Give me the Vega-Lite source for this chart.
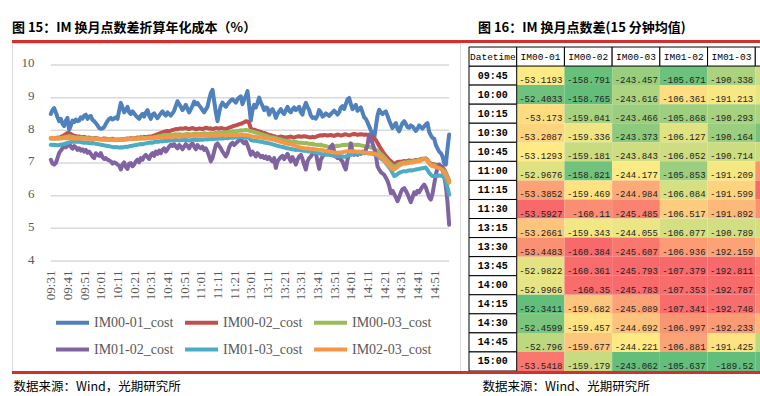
{
"$schema":"https://vega.github.io/schema/vega-lite/v6.json",
"padding":{"left":11,"top":21,"right":0,"bottom":0},
"bounds":"flush",
"spacing":0,
"background":"#ffffff",
"datasets":{
"cost":[
{"t":"09:31","a":8.50,"b":7.76,"c":7.75,"d":7.10,"e":7.56,"f":7.77},
{"t":"09:32","a":8.62,"b":7.77,"c":7.74,"d":6.98,"e":7.55,"f":7.76},
{"t":"09:33","a":8.68,"b":7.75,"c":7.75,"d":6.95,"e":7.56,"f":7.77},
{"t":"09:34","a":8.55,"b":7.76,"c":7.76,"d":7.00,"e":7.55,"f":7.76},
{"t":"09:35","a":8.40,"b":7.78,"c":7.75,"d":7.15,"e":7.54,"f":7.75},
{"t":"09:36","a":8.28,"b":7.77,"c":7.76,"d":7.31,"e":7.55,"f":7.76},
{"t":"09:37","a":8.35,"b":7.80,"c":7.77,"d":7.38,"e":7.56,"f":7.75},
{"t":"09:38","a":8.20,"b":7.82,"c":7.78,"d":7.45,"e":7.57,"f":7.76},
{"t":"09:39","a":8.13,"b":7.85,"c":7.79,"d":7.56,"e":7.58,"f":7.77},
{"t":"09:40","a":8.30,"b":7.88,"c":7.80,"d":7.48,"e":7.60,"f":7.76},
{"t":"09:41","a":8.38,"b":7.92,"c":7.81,"d":7.52,"e":7.62,"f":7.77},
{"t":"09:42","a":8.02,"b":7.91,"c":7.82,"d":7.60,"e":7.63,"f":7.76},
{"t":"09:43","a":8.15,"b":7.89,"c":7.81,"d":7.50,"e":7.64,"f":7.75},
{"t":"09:44","a":8.30,"b":7.85,"c":7.80,"d":7.44,"e":7.65,"f":7.76},
{"t":"09:45","a":8.25,"b":7.84,"c":7.79,"d":7.52,"e":7.66,"f":7.75},
{"t":"09:46","a":8.33,"b":7.82,"c":7.78,"d":7.48,"e":7.65,"f":7.74},
{"t":"09:47","a":8.28,"b":7.80,"c":7.78,"d":7.40,"e":7.66,"f":7.75},
{"t":"09:48","a":8.30,"b":7.81,"c":7.77,"d":7.45,"e":7.65,"f":7.76},
{"t":"09:49","a":8.40,"b":7.80,"c":7.78,"d":7.38,"e":7.64,"f":7.75},
{"t":"09:50","a":8.36,"b":7.79,"c":7.77,"d":7.42,"e":7.63,"f":7.74},
{"t":"09:51","a":8.45,"b":7.80,"c":7.76,"d":7.35,"e":7.62,"f":7.75},
{"t":"09:52","a":8.48,"b":7.78,"c":7.77,"d":7.40,"e":7.63,"f":7.74},
{"t":"09:53","a":8.35,"b":7.77,"c":7.76,"d":7.31,"e":7.62,"f":7.75},
{"t":"09:54","a":8.42,"b":7.78,"c":7.75,"d":7.35,"e":7.61,"f":7.74},
{"t":"09:55","a":8.44,"b":7.76,"c":7.76,"d":7.28,"e":7.60,"f":7.73},
{"t":"09:56","a":8.32,"b":7.75,"c":7.75,"d":7.20,"e":7.61,"f":7.74},
{"t":"09:57","a":8.28,"b":7.76,"c":7.74,"d":7.15,"e":7.60,"f":7.73},
{"t":"09:58","a":8.22,"b":7.77,"c":7.75,"d":7.30,"e":7.59,"f":7.74},
{"t":"09:59","a":8.15,"b":7.75,"c":7.74,"d":7.25,"e":7.58,"f":7.73},
{"t":"10:00","a":8.07,"b":7.74,"c":7.73,"d":7.22,"e":7.57,"f":7.72},
{"t":"10:01","a":8.05,"b":7.73,"c":7.73,"d":7.30,"e":7.56,"f":7.72},
{"t":"10:02","a":8.06,"b":7.74,"c":7.72,"d":7.18,"e":7.55,"f":7.71},
{"t":"10:03","a":8.10,"b":7.75,"c":7.73,"d":7.12,"e":7.54,"f":7.72},
{"t":"10:04","a":8.20,"b":7.74,"c":7.72,"d":7.15,"e":7.53,"f":7.71},
{"t":"10:05","a":8.28,"b":7.73,"c":7.71,"d":7.10,"e":7.52,"f":7.72},
{"t":"10:06","a":8.35,"b":7.72,"c":7.72,"d":7.08,"e":7.51,"f":7.71},
{"t":"10:07","a":8.38,"b":7.73,"c":7.71,"d":7.05,"e":7.50,"f":7.72},
{"t":"10:08","a":8.33,"b":7.74,"c":7.70,"d":6.98,"e":7.49,"f":7.71},
{"t":"10:09","a":8.36,"b":7.72,"c":7.71,"d":7.02,"e":7.48,"f":7.70},
{"t":"10:10","a":8.40,"b":7.71,"c":7.70,"d":7.00,"e":7.49,"f":7.71},
{"t":"10:11","a":8.35,"b":7.72,"c":7.70,"d":6.95,"e":7.48,"f":7.71},
{"t":"10:12","a":8.60,"b":7.71,"c":7.71,"d":6.92,"e":7.47,"f":7.72},
{"t":"10:13","a":8.84,"b":7.72,"c":7.72,"d":6.80,"e":7.48,"f":7.71},
{"t":"10:14","a":8.70,"b":7.73,"c":7.71,"d":6.95,"e":7.47,"f":7.72},
{"t":"10:15","a":8.55,"b":7.72,"c":7.72,"d":7.02,"e":7.49,"f":7.73},
{"t":"10:16","a":8.62,"b":7.74,"c":7.73,"d":6.88,"e":7.50,"f":7.72},
{"t":"10:17","a":8.72,"b":7.75,"c":7.72,"d":6.82,"e":7.49,"f":7.73},
{"t":"10:18","a":8.55,"b":7.74,"c":7.74,"d":6.98,"e":7.51,"f":7.74},
{"t":"10:19","a":8.50,"b":7.76,"c":7.73,"d":7.00,"e":7.52,"f":7.73},
{"t":"10:20","a":8.58,"b":7.75,"c":7.74,"d":6.90,"e":7.53,"f":7.74},
{"t":"10:21","a":8.52,"b":7.76,"c":7.75,"d":6.95,"e":7.54,"f":7.75},
{"t":"10:22","a":8.45,"b":7.77,"c":7.74,"d":7.05,"e":7.55,"f":7.74},
{"t":"10:23","a":8.40,"b":7.78,"c":7.75,"d":7.10,"e":7.56,"f":7.75},
{"t":"10:24","a":8.35,"b":7.77,"c":7.76,"d":7.02,"e":7.57,"f":7.76},
{"t":"10:25","a":8.45,"b":7.79,"c":7.75,"d":7.15,"e":7.58,"f":7.75},
{"t":"10:26","a":8.50,"b":7.78,"c":7.76,"d":7.10,"e":7.57,"f":7.76},
{"t":"10:27","a":8.42,"b":7.80,"c":7.77,"d":7.20,"e":7.59,"f":7.75},
{"t":"10:28","a":8.55,"b":7.79,"c":7.76,"d":7.25,"e":7.60,"f":7.76},
{"t":"10:29","a":8.62,"b":7.80,"c":7.77,"d":7.18,"e":7.61,"f":7.77},
{"t":"10:30","a":8.45,"b":7.81,"c":7.78,"d":7.12,"e":7.62,"f":7.76},
{"t":"10:31","a":8.35,"b":7.80,"c":7.77,"d":7.25,"e":7.63,"f":7.77},
{"t":"10:32","a":8.48,"b":7.82,"c":7.78,"d":7.30,"e":7.62,"f":7.76},
{"t":"10:33","a":8.52,"b":7.84,"c":7.79,"d":7.22,"e":7.64,"f":7.77},
{"t":"10:34","a":8.44,"b":7.86,"c":7.80,"d":7.35,"e":7.65,"f":7.78},
{"t":"10:35","a":8.37,"b":7.88,"c":7.81,"d":7.28,"e":7.66,"f":7.77},
{"t":"10:36","a":8.45,"b":7.90,"c":7.82,"d":7.38,"e":7.65,"f":7.78},
{"t":"10:37","a":8.52,"b":7.92,"c":7.83,"d":7.30,"e":7.67,"f":7.79},
{"t":"10:38","a":8.58,"b":7.94,"c":7.84,"d":7.40,"e":7.66,"f":7.78},
{"t":"10:39","a":8.50,"b":7.96,"c":7.85,"d":7.45,"e":7.68,"f":7.79},
{"t":"10:40","a":8.45,"b":7.97,"c":7.86,"d":7.35,"e":7.67,"f":7.80},
{"t":"10:41","a":8.55,"b":7.98,"c":7.86,"d":7.42,"e":7.68,"f":7.79},
{"t":"10:42","a":8.50,"b":7.97,"c":7.85,"d":7.50,"e":7.69,"f":7.80},
{"t":"10:43","a":8.45,"b":7.99,"c":7.87,"d":7.56,"e":7.70,"f":7.81},
{"t":"10:44","a":8.52,"b":8.01,"c":7.86,"d":7.52,"e":7.69,"f":7.80},
{"t":"10:45","a":8.60,"b":8.02,"c":7.87,"d":7.58,"e":7.70,"f":7.81},
{"t":"10:46","a":8.75,"b":8.04,"c":7.88,"d":7.50,"e":7.71,"f":7.82},
{"t":"10:47","a":8.89,"b":8.03,"c":7.87,"d":7.45,"e":7.70,"f":7.81},
{"t":"10:48","a":8.80,"b":8.05,"c":7.88,"d":7.55,"e":7.69,"f":7.82},
{"t":"10:49","a":8.72,"b":8.06,"c":7.87,"d":7.50,"e":7.70,"f":7.81},
{"t":"10:50","a":8.62,"b":8.05,"c":7.86,"d":7.42,"e":7.71,"f":7.82},
{"t":"10:51","a":8.70,"b":8.06,"c":7.87,"d":7.50,"e":7.70,"f":7.83},
{"t":"10:52","a":8.78,"b":8.07,"c":7.88,"d":7.58,"e":7.71,"f":7.82},
{"t":"10:53","a":8.65,"b":8.05,"c":7.89,"d":7.52,"e":7.70,"f":7.83},
{"t":"10:54","a":8.55,"b":8.04,"c":7.88,"d":7.45,"e":7.69,"f":7.82},
{"t":"10:55","a":8.65,"b":8.06,"c":7.87,"d":7.55,"e":7.70,"f":7.83},
{"t":"10:56","a":8.75,"b":8.07,"c":7.88,"d":7.60,"e":7.71,"f":7.84},
{"t":"10:57","a":8.88,"b":8.05,"c":7.89,"d":7.50,"e":7.72,"f":7.83},
{"t":"10:58","a":8.80,"b":8.03,"c":7.90,"d":7.42,"e":7.71,"f":7.82},
{"t":"10:59","a":8.84,"b":8.04,"c":7.89,"d":7.55,"e":7.70,"f":7.83},
{"t":"11:00","a":8.76,"b":8.06,"c":7.88,"d":7.48,"e":7.71,"f":7.84},
{"t":"11:01","a":8.70,"b":8.05,"c":7.89,"d":7.45,"e":7.72,"f":7.83},
{"t":"11:02","a":8.62,"b":8.04,"c":7.90,"d":7.50,"e":7.71,"f":7.84},
{"t":"11:03","a":8.55,"b":8.06,"c":7.91,"d":7.40,"e":7.72,"f":7.85},
{"t":"11:04","a":8.64,"b":8.08,"c":7.90,"d":7.45,"e":7.73,"f":7.84},
{"t":"11:05","a":8.72,"b":8.07,"c":7.89,"d":7.35,"e":7.72,"f":7.83},
{"t":"11:06","a":8.95,"b":8.05,"c":7.90,"d":7.20,"e":7.73,"f":7.84},
{"t":"11:07","a":9.14,"b":8.06,"c":7.91,"d":7.05,"e":7.74,"f":7.85},
{"t":"11:08","a":9.24,"b":8.04,"c":7.90,"d":7.15,"e":7.73,"f":7.84},
{"t":"11:09","a":8.90,"b":8.05,"c":7.91,"d":7.35,"e":7.74,"f":7.85},
{"t":"11:10","a":8.55,"b":8.07,"c":7.92,"d":7.55,"e":7.75,"f":7.84},
{"t":"11:11","a":8.28,"b":8.06,"c":7.91,"d":7.60,"e":7.74,"f":7.85},
{"t":"11:12","a":8.55,"b":8.05,"c":7.92,"d":7.52,"e":7.75,"f":7.84},
{"t":"11:13","a":8.75,"b":8.07,"c":7.93,"d":7.45,"e":7.76,"f":7.85},
{"t":"11:14","a":8.85,"b":8.06,"c":7.92,"d":7.35,"e":7.75,"f":7.86},
{"t":"11:15","a":8.78,"b":8.05,"c":7.93,"d":7.28,"e":7.76,"f":7.85},
{"t":"11:16","a":8.72,"b":8.04,"c":7.94,"d":7.20,"e":7.77,"f":7.84},
{"t":"11:17","a":8.80,"b":8.06,"c":7.93,"d":7.30,"e":7.76,"f":7.85},
{"t":"11:18","a":8.86,"b":8.08,"c":7.95,"d":7.48,"e":7.77,"f":7.86},
{"t":"11:19","a":8.92,"b":8.10,"c":7.96,"d":7.58,"e":7.78,"f":7.85},
{"t":"11:20","a":8.95,"b":8.12,"c":7.97,"d":7.62,"e":7.77,"f":7.86},
{"t":"11:21","a":8.90,"b":8.14,"c":7.96,"d":7.55,"e":7.78,"f":7.85},
{"t":"11:22","a":8.85,"b":8.15,"c":7.97,"d":7.60,"e":7.79,"f":7.86},
{"t":"11:23","a":8.95,"b":8.17,"c":7.98,"d":7.65,"e":7.78,"f":7.85},
{"t":"11:24","a":9.00,"b":8.19,"c":7.99,"d":7.70,"e":7.79,"f":7.86},
{"t":"11:25","a":9.04,"b":8.20,"c":8.00,"d":7.77,"e":7.80,"f":7.87},
{"t":"11:26","a":8.80,"b":8.22,"c":7.99,"d":7.65,"e":7.79,"f":7.86},
{"t":"11:27","a":8.95,"b":8.25,"c":8.00,"d":7.60,"e":7.78,"f":7.85},
{"t":"11:28","a":9.05,"b":8.28,"c":8.01,"d":7.66,"e":7.79,"f":7.86},
{"t":"11:29","a":9.20,"b":8.27,"c":8.00,"d":7.55,"e":7.78,"f":7.85},
{"t":"11:30","a":8.75,"b":8.22,"c":7.99,"d":7.40,"e":7.77,"f":7.84},
{"t":"13:01","a":8.30,"b":8.05,"c":7.97,"d":7.25,"e":7.70,"f":7.82},
{"t":"13:02","a":8.62,"b":8.03,"c":7.96,"d":7.35,"e":7.69,"f":7.81},
{"t":"13:03","a":8.78,"b":8.02,"c":7.95,"d":7.28,"e":7.68,"f":7.80},
{"t":"13:04","a":8.70,"b":8.00,"c":7.93,"d":7.20,"e":7.68,"f":7.80},
{"t":"13:05","a":8.84,"b":7.98,"c":7.92,"d":7.30,"e":7.67,"f":7.79},
{"t":"13:06","a":9.00,"b":7.97,"c":7.90,"d":7.25,"e":7.66,"f":7.78},
{"t":"13:07","a":8.85,"b":7.95,"c":7.88,"d":7.18,"e":7.65,"f":7.78},
{"t":"13:08","a":8.75,"b":7.93,"c":7.87,"d":7.22,"e":7.64,"f":7.77},
{"t":"13:09","a":8.62,"b":7.92,"c":7.85,"d":7.15,"e":7.63,"f":7.76},
{"t":"13:10","a":8.70,"b":7.90,"c":7.84,"d":7.20,"e":7.62,"f":7.76},
{"t":"13:11","a":8.68,"b":7.88,"c":7.82,"d":7.12,"e":7.61,"f":7.75},
{"t":"13:12","a":8.48,"b":7.86,"c":7.80,"d":7.18,"e":7.60,"f":7.74},
{"t":"13:13","a":8.60,"b":7.85,"c":7.79,"d":7.10,"e":7.59,"f":7.73},
{"t":"13:14","a":8.65,"b":7.83,"c":7.78,"d":7.05,"e":7.57,"f":7.72},
{"t":"13:15","a":8.55,"b":7.82,"c":7.77,"d":7.15,"e":7.56,"f":7.71},
{"t":"13:16","a":8.38,"b":7.80,"c":7.76,"d":6.85,"e":7.54,"f":7.69},
{"t":"13:17","a":8.50,"b":7.79,"c":7.74,"d":7.05,"e":7.53,"f":7.68},
{"t":"13:18","a":8.58,"b":7.80,"c":7.73,"d":7.12,"e":7.51,"f":7.66},
{"t":"13:19","a":8.65,"b":7.81,"c":7.72,"d":7.18,"e":7.50,"f":7.65},
{"t":"13:20","a":8.55,"b":7.80,"c":7.70,"d":7.22,"e":7.49,"f":7.63},
{"t":"13:21","a":8.50,"b":7.79,"c":7.69,"d":7.12,"e":7.48,"f":7.62},
{"t":"13:22","a":8.62,"b":7.78,"c":7.68,"d":7.20,"e":7.46,"f":7.60},
{"t":"13:23","a":8.72,"b":7.79,"c":7.67,"d":7.28,"e":7.45,"f":7.59},
{"t":"13:24","a":8.60,"b":7.80,"c":7.68,"d":7.15,"e":7.44,"f":7.58},
{"t":"13:25","a":8.55,"b":7.81,"c":7.66,"d":7.05,"e":7.43,"f":7.57},
{"t":"13:26","a":8.65,"b":7.79,"c":7.65,"d":7.18,"e":7.42,"f":7.56},
{"t":"13:27","a":8.70,"b":7.78,"c":7.66,"d":7.08,"e":7.41,"f":7.54},
{"t":"13:28","a":8.62,"b":7.80,"c":7.64,"d":6.95,"e":7.40,"f":7.52},
{"t":"13:29","a":8.66,"b":7.81,"c":7.63,"d":7.10,"e":7.41,"f":7.50},
{"t":"13:30","a":8.72,"b":7.82,"c":7.62,"d":7.20,"e":7.40,"f":7.48},
{"t":"13:31","a":8.55,"b":7.80,"c":7.62,"d":7.25,"e":7.39,"f":7.47},
{"t":"13:32","a":8.48,"b":7.81,"c":7.61,"d":7.12,"e":7.38,"f":7.46},
{"t":"13:33","a":8.70,"b":7.82,"c":7.60,"d":6.95,"e":7.37,"f":7.45},
{"t":"13:34","a":8.84,"b":7.81,"c":7.61,"d":6.80,"e":7.38,"f":7.44},
{"t":"13:35","a":8.72,"b":7.80,"c":7.60,"d":7.05,"e":7.36,"f":7.45},
{"t":"13:36","a":8.62,"b":7.79,"c":7.59,"d":7.15,"e":7.35,"f":7.44},
{"t":"13:37","a":8.45,"b":7.78,"c":7.58,"d":7.20,"e":7.36,"f":7.43},
{"t":"13:38","a":8.38,"b":7.80,"c":7.59,"d":7.28,"e":7.34,"f":7.44},
{"t":"13:39","a":8.40,"b":7.79,"c":7.57,"d":7.35,"e":7.33,"f":7.42},
{"t":"13:40","a":8.36,"b":7.80,"c":7.56,"d":7.30,"e":7.32,"f":7.41},
{"t":"13:41","a":8.45,"b":7.82,"c":7.56,"d":7.05,"e":7.31,"f":7.41},
{"t":"13:42","a":8.62,"b":7.84,"c":7.55,"d":6.82,"e":7.30,"f":7.40},
{"t":"13:43","a":8.55,"b":7.85,"c":7.56,"d":7.10,"e":7.28,"f":7.41},
{"t":"13:44","a":8.42,"b":7.84,"c":7.54,"d":7.20,"e":7.27,"f":7.39},
{"t":"13:45","a":8.45,"b":7.86,"c":7.53,"d":7.25,"e":7.26,"f":7.38},
{"t":"13:46","a":8.52,"b":7.85,"c":7.52,"d":7.30,"e":7.25,"f":7.37},
{"t":"13:47","a":8.48,"b":7.84,"c":7.50,"d":7.35,"e":7.26,"f":7.36},
{"t":"13:48","a":8.44,"b":7.85,"c":7.49,"d":7.40,"e":7.25,"f":7.35},
{"t":"13:49","a":8.50,"b":7.86,"c":7.48,"d":7.50,"e":7.24,"f":7.34},
{"t":"13:50","a":8.55,"b":7.84,"c":7.49,"d":7.56,"e":7.23,"f":7.33},
{"t":"13:51","a":8.60,"b":7.83,"c":7.50,"d":7.35,"e":7.22,"f":7.32},
{"t":"13:52","a":8.55,"b":7.85,"c":7.52,"d":7.20,"e":7.21,"f":7.31},
{"t":"13:53","a":8.48,"b":7.87,"c":7.53,"d":7.15,"e":7.22,"f":7.32},
{"t":"13:54","a":8.55,"b":7.86,"c":7.52,"d":7.22,"e":7.20,"f":7.31},
{"t":"13:55","a":8.70,"b":7.84,"c":7.54,"d":7.10,"e":7.21,"f":7.32},
{"t":"13:56","a":8.74,"b":7.85,"c":7.55,"d":7.05,"e":7.20,"f":7.33},
{"t":"13:57","a":8.65,"b":7.87,"c":7.56,"d":6.90,"e":7.19,"f":7.34},
{"t":"13:58","a":8.80,"b":7.88,"c":7.55,"d":6.80,"e":7.20,"f":7.35},
{"t":"13:59","a":8.95,"b":7.86,"c":7.56,"d":7.10,"e":7.22,"f":7.36},
{"t":"14:00","a":8.99,"b":7.85,"c":7.57,"d":7.30,"e":7.24,"f":7.35},
{"t":"14:01","a":8.80,"b":7.86,"c":7.56,"d":7.60,"e":7.25,"f":7.36},
{"t":"14:02","a":8.65,"b":7.88,"c":7.57,"d":7.35,"e":7.27,"f":7.35},
{"t":"14:03","a":8.72,"b":7.89,"c":7.56,"d":7.25,"e":7.28,"f":7.36},
{"t":"14:04","a":8.78,"b":7.88,"c":7.55,"d":7.30,"e":7.29,"f":7.35},
{"t":"14:05","a":8.60,"b":7.86,"c":7.56,"d":7.25,"e":7.30,"f":7.34},
{"t":"14:06","a":8.65,"b":7.87,"c":7.55,"d":7.32,"e":7.29,"f":7.35},
{"t":"14:07","a":8.70,"b":7.88,"c":7.54,"d":7.28,"e":7.30,"f":7.34},
{"t":"14:08","a":8.55,"b":7.87,"c":7.53,"d":7.35,"e":7.31,"f":7.33},
{"t":"14:09","a":8.40,"b":7.86,"c":7.52,"d":7.30,"e":7.30,"f":7.32},
{"t":"14:10","a":8.35,"b":7.87,"c":7.50,"d":7.40,"e":7.31,"f":7.31},
{"t":"14:11","a":8.25,"b":7.86,"c":7.50,"d":7.55,"e":7.30,"f":7.31},
{"t":"14:12","a":8.12,"b":7.84,"c":7.49,"d":7.87,"e":7.29,"f":7.30},
{"t":"14:13","a":8.00,"b":7.82,"c":7.48,"d":7.75,"e":7.30,"f":7.31},
{"t":"14:14","a":7.90,"b":7.80,"c":7.46,"d":7.60,"e":7.28,"f":7.30},
{"t":"14:15","a":7.75,"b":7.75,"c":7.44,"d":7.45,"e":7.27,"f":7.29},
{"t":"14:16","a":8.10,"b":7.70,"c":7.41,"d":7.25,"e":7.25,"f":7.27},
{"t":"14:17","a":8.45,"b":7.62,"c":7.37,"d":6.90,"e":7.22,"f":7.25},
{"t":"14:18","a":8.63,"b":7.52,"c":7.33,"d":6.80,"e":7.18,"f":7.22},
{"t":"14:19","a":8.55,"b":7.44,"c":7.28,"d":6.72,"e":7.14,"f":7.18},
{"t":"14:20","a":8.50,"b":7.36,"c":7.23,"d":6.68,"e":7.10,"f":7.13},
{"t":"14:21","a":8.55,"b":7.28,"c":7.18,"d":6.64,"e":7.06,"f":7.08},
{"t":"14:22","a":8.58,"b":7.22,"c":7.12,"d":6.55,"e":7.00,"f":7.02},
{"t":"14:23","a":8.45,"b":7.16,"c":7.06,"d":6.45,"e":6.93,"f":6.96},
{"t":"14:24","a":8.30,"b":7.10,"c":7.01,"d":6.30,"e":6.86,"f":6.91},
{"t":"14:25","a":8.18,"b":7.06,"c":6.96,"d":6.08,"e":6.80,"f":6.86},
{"t":"14:26","a":8.07,"b":7.01,"c":6.91,"d":6.15,"e":6.70,"f":6.82},
{"t":"14:27","a":8.15,"b":6.98,"c":6.87,"d":6.05,"e":6.60,"f":6.80},
{"t":"14:28","a":8.22,"b":7.00,"c":6.90,"d":5.95,"e":6.62,"f":6.84},
{"t":"14:29","a":8.05,"b":7.03,"c":6.94,"d":5.83,"e":6.66,"f":6.88},
{"t":"14:30","a":7.97,"b":7.04,"c":6.97,"d":5.95,"e":6.70,"f":6.92},
{"t":"14:31","a":8.10,"b":7.04,"c":6.99,"d":6.10,"e":6.72,"f":6.95},
{"t":"14:32","a":8.22,"b":7.05,"c":7.00,"d":6.20,"e":6.74,"f":6.97},
{"t":"14:33","a":8.28,"b":7.06,"c":7.02,"d":6.23,"e":6.75,"f":6.99},
{"t":"14:34","a":8.20,"b":7.05,"c":7.01,"d":6.15,"e":6.74,"f":6.98},
{"t":"14:35","a":8.10,"b":7.06,"c":7.03,"d":6.05,"e":6.76,"f":7.00},
{"t":"14:36","a":8.08,"b":7.08,"c":7.04,"d":5.92,"e":6.77,"f":7.01},
{"t":"14:37","a":8.15,"b":7.07,"c":7.05,"d":5.80,"e":6.78,"f":7.02},
{"t":"14:38","a":8.12,"b":7.06,"c":7.04,"d":5.95,"e":6.77,"f":7.01},
{"t":"14:39","a":8.05,"b":7.08,"c":7.06,"d":6.10,"e":6.79,"f":7.03},
{"t":"14:40","a":7.98,"b":7.09,"c":7.07,"d":6.05,"e":6.80,"f":7.04},
{"t":"14:41","a":8.05,"b":7.08,"c":7.08,"d":6.15,"e":6.81,"f":7.05},
{"t":"14:42","a":8.15,"b":7.10,"c":7.09,"d":6.10,"e":6.82,"f":7.06},
{"t":"14:43","a":8.10,"b":7.12,"c":7.10,"d":6.20,"e":6.83,"f":7.08},
{"t":"14:44","a":8.05,"b":7.13,"c":7.12,"d":6.28,"e":6.84,"f":7.10},
{"t":"14:45","a":8.12,"b":7.12,"c":7.13,"d":6.34,"e":6.85,"f":7.11},
{"t":"14:46","a":8.18,"b":7.14,"c":7.14,"d":6.25,"e":6.86,"f":7.12},
{"t":"14:47","a":8.22,"b":7.10,"c":7.08,"d":6.10,"e":6.78,"f":7.05},
{"t":"14:48","a":7.95,"b":7.02,"c":7.00,"d":5.95,"e":6.70,"f":6.98},
{"t":"14:49","a":7.85,"b":6.98,"c":6.95,"d":5.88,"e":6.64,"f":6.93},
{"t":"14:50","a":7.77,"b":6.95,"c":6.92,"d":6.05,"e":6.60,"f":6.90},
{"t":"14:51","a":7.75,"b":6.96,"c":6.93,"d":6.35,"e":6.60,"f":6.89},
{"t":"14:52","a":7.55,"b":6.94,"c":6.91,"d":6.64,"e":6.61,"f":6.87},
{"t":"14:53","a":7.45,"b":6.92,"c":6.90,"d":6.85,"e":6.60,"f":6.86},
{"t":"14:54","a":7.35,"b":6.93,"c":6.88,"d":6.95,"e":6.62,"f":6.84},
{"t":"14:55","a":7.30,"b":6.90,"c":6.86,"d":6.90,"e":6.61,"f":6.82},
{"t":"14:56","a":7.20,"b":6.88,"c":6.83,"d":6.80,"e":6.60,"f":6.78},
{"t":"14:57","a":7.00,"b":6.80,"c":6.76,"d":6.60,"e":6.55,"f":6.70},
{"t":"14:58","a":6.95,"b":6.70,"c":6.67,"d":6.30,"e":6.45,"f":6.62},
{"t":"14:59","a":7.45,"b":6.58,"c":6.56,"d":5.80,"e":6.25,"f":6.52},
{"t":"15:00","a":7.87,"b":6.45,"c":6.45,"d":5.11,"e":6.03,"f":6.40}
],
"tbl":[
{"time":"09:45","IM00-01":-53.1193,"IM00-02":-158.791,"IM00-03":-243.457,"IM01-02":-105.671,"IM01-03":-190.338,"IM02-03":-84.666},
{"time":"10:00","IM00-01":-52.4033,"IM00-02":-158.765,"IM00-03":-243.616,"IM01-02":-106.361,"IM01-03":-191.213,"IM02-03":-84.851},
{"time":"10:15","IM00-01":-53.173,"IM00-02":-159.041,"IM00-03":-243.466,"IM01-02":-105.868,"IM01-03":-190.293,"IM02-03":-84.425},
{"time":"10:30","IM00-01":-53.2087,"IM00-02":-159.336,"IM00-03":-243.373,"IM01-02":-106.127,"IM01-03":-190.164,"IM02-03":-84.037},
{"time":"10:45","IM00-01":-53.1293,"IM00-02":-159.181,"IM00-03":-243.843,"IM01-02":-106.052,"IM01-03":-190.714,"IM02-03":-84.662},
{"time":"11:00","IM00-01":-52.9676,"IM00-02":-158.821,"IM00-03":-244.177,"IM01-02":-105.853,"IM01-03":-191.209,"IM02-03":-85.356},
{"time":"11:15","IM00-01":-53.3852,"IM00-02":-159.469,"IM00-03":-244.984,"IM01-02":-106.084,"IM01-03":-191.599,"IM02-03":-85.515},
{"time":"11:30","IM00-01":-53.5927,"IM00-02":-160.11,"IM00-03":-245.485,"IM01-02":-106.517,"IM01-03":-191.892,"IM02-03":-85.375},
{"time":"13:15","IM00-01":-53.2661,"IM00-02":-159.343,"IM00-03":-244.055,"IM01-02":-106.077,"IM01-03":-190.789,"IM02-03":-84.712},
{"time":"13:30","IM00-01":-53.4483,"IM00-02":-160.384,"IM00-03":-245.607,"IM01-02":-106.936,"IM01-03":-192.159,"IM02-03":-85.223},
{"time":"13:45","IM00-01":-52.9822,"IM00-02":-160.361,"IM00-03":-245.793,"IM01-02":-107.379,"IM01-03":-192.811,"IM02-03":-85.432},
{"time":"14:00","IM00-01":-52.9966,"IM00-02":-160.35,"IM00-03":-245.783,"IM01-02":-107.353,"IM01-03":-192.787,"IM02-03":-85.433},
{"time":"14:15","IM00-01":-52.3411,"IM00-02":-159.682,"IM00-03":-245.089,"IM01-02":-107.341,"IM01-03":-192.748,"IM02-03":-85.407},
{"time":"14:30","IM00-01":-52.4599,"IM00-02":-159.457,"IM00-03":-244.692,"IM01-02":-106.997,"IM01-03":-192.233,"IM02-03":-85.235},
{"time":"14:45","IM00-01":-52.796,"IM00-02":-159.677,"IM00-03":-244.221,"IM01-02":-106.881,"IM01-03":-191.425,"IM02-03":-84.544},
{"time":"15:00","IM00-01":-53.5418,"IM00-02":-159.179,"IM00-03":-243.062,"IM01-02":-105.637,"IM01-03":-189.52,"IM02-03":-83.883}
],
"hdr":[{"h":"Datetime"},{"h":"IM00-01"},{"h":"IM00-02"},{"h":"IM00-03"},{"h":"IM01-02"},{"h":"IM01-03"},{"h":"IM02-03"}]
},
"hconcat":[
{
"width":448,"height":328,
"title":{"text":"图 15：IM 换月点数差折算年化成本（%）","anchor":"start","frame":"group","font":"Noto Sans CJK SC","fontSize":13,"fontWeight":"bold","color":"#000000","offset":5},
"view":{"stroke":"#D9D9D9","strokeWidth":1},
"layer":[
{"data":{"values":[{"g":4},{"g":5},{"g":6},{"g":7},{"g":8},{"g":9},{"g":10}]},
 "mark":{"type":"rule","color":"#D9D9D9","strokeWidth":1.5},
 "encoding":{"y":{"field":"g","type":"quantitative"},"x":{"datum":"09:31","type":"ordinal"},"x2":{"datum":"15:00"}}},
{"data":{"name":"cost"},
 "transform":[{"fold":["a","b","c","d","e","f"],"as":["s","v"]}],
 "mark":{"type":"line","strokeWidth":4,"strokeCap":"round","strokeJoin":"round"},
 "encoding":{
  "x":{"field":"t","type":"ordinal","scale":{"type":"point","range":[38,438]},
   "axis":{"values":["09:31","09:41","09:51","10:01","10:11","10:21","10:31","10:41","10:51","11:01","11:11","11:21","13:01","13:11","13:21","13:31","13:41","13:51","14:01","14:11","14:21","14:31","14:41","14:51"],
    "offset":-110,"labelAngle":-90,"labelPadding":9,"domain":false,"ticks":false,"tickSize":0,"grid":false,
    "labelFont":"Liberation Serif","labelFontSize":13,"labelColor":"#595959",
    "title":"数据来源：Wind，光期研究所","titleFont":"Noto Sans CJK SC","titleFontSize":12.5,"titleFontWeight":"normal","titleColor":"#000000",
    "titleAnchor":"start","titleAlign":"left","titleBaseline":"middle","titleX":1,"titleY":125}},
  "y":{"field":"v","type":"quantitative","scale":{"domain":[0.633,10.673],"nice":false,"zero":false},
   "axis":{"values":[4,5,6,7,8,9,10],"offset":-36,"domain":false,"ticks":false,"tickSize":0,"grid":false,"labelPadding":14,"labelBaseline":"middle","labelOffset":-2,
    "labelFont":"Liberation Serif","labelFontSize":13,"labelColor":"#595959","title":null}},
  "color":{"field":"s","type":"nominal",
   "scale":{"domain":["a","b","c","d","e","f"],"range":["#4F81BD","#C0504D","#9BBB59","#8064A2","#4BACC6","#F79646"]},
   "legend":{"orient":"none","legendX":42,"legendY":261,"direction":"horizontal","columns":3,"title":null,
    "symbolType":"stroke","symbolStrokeWidth":4,"symbolSize":1089,"labelOffset":3,"columnPadding":3,"rowPadding":0,"padding":0,
    "labelFont":"Liberation Serif","labelFontSize":14,"labelColor":"#595959","labelLimit":0,
    "labelExpr":"datum.label=='a'?'IM00-01_cost':datum.label=='b'?'IM00-02_cost':datum.label=='c'?'IM00-03_cost':datum.label=='d'?'IM01-02_cost':datum.label=='e'?'IM01-03_cost':'IM02-03_cost'"}}
 }},
{"data":{"values":[{}]},"mark":{"type":"rect","color":"#D32F2F"},"encoding":{"y":{"datum":10.765},"y2":{"datum":10.673}}},
{"data":{"values":[{}]},"mark":{"type":"rect","color":"#D32F2F"},"encoding":{"y":{"datum":0.633},"y2":{"datum":0.541}}}
]
},
{
"width":300,"height":328,
"title":{"text":"图 16：IM 换月点数差(15 分钟均值)","anchor":"start","frame":"group","dx":18,"font":"Noto Sans CJK SC","fontSize":13,"fontWeight":"bold","color":"#000000","offset":5},
"view":{"stroke":null},
"resolve":{"scale":{"y":"independent"}},
"layer":[
{"layer":[
 {"data":{"name":"tbl"},
  "transform":[
   {"fold":["IM00-01","IM00-02","IM00-03","IM01-02","IM01-03","IM02-03"],"as":["col","v"]},
   {"joinaggregate":[{"op":"min","field":"v","as":"vmin"},{"op":"max","field":"v","as":"vmax"},{"op":"median","field":"v","as":"vmed"}],"groupby":["col"]},
   {"calculate":"datum.v <= datum.vmed ? 0.5*(datum.v-datum.vmin)/(datum.vmed-datum.vmin) : 0.5+0.5*(datum.v-datum.vmed)/(datum.vmax-datum.vmed)","as":"tt"}],
  "mark":{"type":"rect","clip":true},
  "encoding":{
   "x":{"field":"col","type":"nominal","scale":{"type":"band","domain":["Datetime","IM00-01","IM00-02","IM00-03","IM01-02","IM01-03","IM02-03"],"range":[9,343],"paddingInner":0,"paddingOuter":0},
    "axis":{"orient":"bottom","labels":false,"ticks":false,"domain":false,"grid":false,
     "title":"数据来源：Wind、光期研究所","titleFont":"Noto Sans CJK SC","titleFontSize":12.5,"titleFontWeight":"normal","titleColor":"#000000",
     "titleAnchor":"start","titleAlign":"left","titleBaseline":"middle","titleX":22,"titleY":15}},
   "y":{"field":"time","type":"nominal","scale":{"type":"band","domain":["Datetime","09:45","10:00","10:15","10:30","10:45","11:00","11:15","11:30","13:15","13:30","13:45","14:00","14:15","14:30","14:45","15:00"],"paddingInner":0,"paddingOuter":0.105,"align":1},"axis":null},
   "color":{"field":"tt","type":"quantitative","scale":{"domain":[0,0.5,1],"range":["#F8696B","#FFEB84","#63BE7B"],"interpolate":"rgb"},"legend":null}
  }},
 {"data":{"name":"tbl"},
  "transform":[{"fold":["IM00-01","IM00-02","IM00-03","IM01-02","IM01-03"],"as":["col","v"]}],
  "mark":{"type":"text","align":"right","baseline":"alphabetic","dx":-2,"dy":-2,"font":"Liberation Mono","fontSize":9,"color":"#222222","clip":true},
  "encoding":{
   "x":{"field":"col","type":"nominal","bandPosition":1},
   "y":{"field":"time","type":"nominal","bandPosition":1},
   "text":{"field":"v","type":"nominal"}
  }},
 {"data":{"name":"tbl"},
  "mark":{"type":"rect","fill":"#ffffff","stroke":"#000000","strokeWidth":1},
  "encoding":{"x":{"datum":"Datetime","type":"nominal"},"y":{"field":"time","type":"nominal"}}},
 {"data":{"name":"tbl"},
  "mark":{"type":"text","font":"Liberation Mono","fontSize":10,"fontWeight":"bold","baseline":"middle","color":"#000000"},
  "encoding":{"x":{"datum":"Datetime","type":"nominal"},"y":{"field":"time","type":"nominal"},"text":{"field":"time","type":"nominal"}}},
 {"data":{"name":"hdr"},
  "mark":{"type":"rect","fill":"#ffffff","stroke":"#000000","strokeWidth":1,"clip":true},
  "encoding":{"x":{"field":"h","type":"nominal"},"y":{"datum":"Datetime","type":"nominal"}}},
 {"data":{"name":"hdr"},
  "transform":[{"filter":"datum.h != 'IM02-03'"}],
  "mark":{"type":"text","font":"Liberation Mono","fontSize":9.5,"baseline":"middle","color":"#000000","clip":true},
  "encoding":{"x":{"field":"h","type":"nominal"},"y":{"datum":"Datetime","type":"nominal"},"text":{"field":"h","type":"nominal"}}}
]},
{"data":{"values":[{}]},"mark":{"type":"rect","color":"#D32F2F"},
 "encoding":{"y":{"datum":1.00915,"type":"quantitative","scale":{"domain":[0,1],"nice":false,"zero":false},"axis":null},"y2":{"datum":1}}},
{"data":{"values":[{}]},"mark":{"type":"rect","color":"#D32F2F"},
 "encoding":{"y":{"datum":0,"type":"quantitative","scale":{"domain":[0,1],"nice":false,"zero":false},"axis":null},"y2":{"datum":-0.00915}}}
]
}
]
}
